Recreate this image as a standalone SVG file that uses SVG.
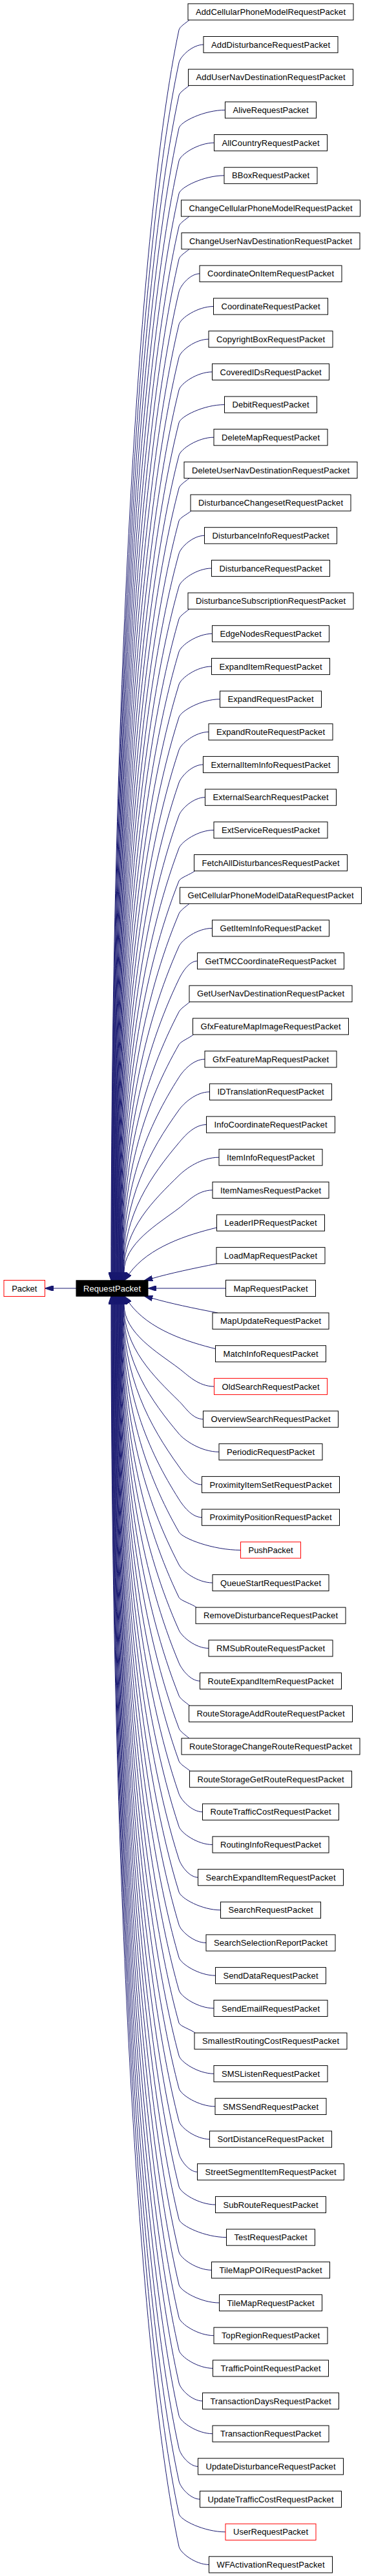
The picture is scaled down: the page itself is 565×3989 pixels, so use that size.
<svg xmlns="http://www.w3.org/2000/svg" width="565" height="3989" viewBox="0 0 565 3989">
<style>
.n rect{fill:#fff;stroke:#000;stroke-width:1}
.n text{font-family:"Liberation Sans",Arial,sans-serif;font-size:13px;text-anchor:middle;fill:#000}
.red rect{stroke:#ff0000}
.root rect{fill:#000}
.root text{fill:#fff}
#edges path{fill:none;stroke:#191970;stroke-width:1;marker-end:url(#ah)}
</style>
<defs>
<marker id="ah" markerUnits="userSpaceOnUse" viewBox="0 0 13 8.8" markerWidth="13" markerHeight="8.8" refX="13" refY="4.4" orient="auto"><path d="M0,0 L13,4.4 L0,8.8 z" fill="#191970" stroke="#191970" stroke-width="1"/></marker>
</defs>
<rect width="565" height="3989" fill="#fff"/>
<g id="edges">
<path d="M118,1995 L69.5,1995"/>
<path d="M293,31 C287,36 278.1,41.4 277,46.4 C214,343.6 172,1104.4 172,1970 L172,1983"/>
<path d="M315,69.1 C297.9,69.1 279.2,87.1 277,97.1 C214.4,388.4 172.6,1127.2 172.6,1970 L172.6,1983"/>
<path d="M293,132.4 C287,137.4 278.1,142.8 277,147.8 C214.7,435.1 173.1,1150 173.1,1970 L173.1,1983"/>
<path d="M348.5,170.4 C316.3,170.4 279.2,188.4 277,198.4 C215,480.1 173.7,1172.8 173.7,1970 L173.7,1983"/>
<path d="M331.5,221.1 C307,221.1 279.2,239.1 277,249.1 C215.3,525.7 174.2,1195.6 174.2,1970 L174.2,1983"/>
<path d="M347,271.8 C315.5,271.8 279.3,289.8 277,299.8 C215.7,571.1 174.8,1218.4 174.8,1970 L174.8,1983"/>
<path d="M293,335.1 C287,340.1 278.1,345.5 277,350.5 C216,617 175.3,1241.2 175.3,1970 L175.3,1983"/>
<path d="M293,385.8 C287,390.8 278.2,396.2 277,401.2 C216.3,662.1 175.9,1264 175.9,1970 L175.9,1983"/>
<path d="M309,423.8 C294.6,423.8 279.4,441.8 277,451.8 C216.6,707.6 176.4,1286.8 176.4,1970 L176.4,1983"/>
<path d="M330.5,474.5 C306.4,474.5 279.4,492.5 277,502.5 C217,752.5 177,1309.6 177,1970 L177,1983"/>
<path d="M323,525.2 C302.3,525.2 279.4,543.2 277,553.2 C217.4,797.6 177.6,1332.4 177.6,1970 L177.6,1983"/>
<path d="M328.5,575.9 C305.3,575.9 279.5,593.9 277,603.9 C217.7,842.2 178.1,1355.3 178.1,1970 L178.1,1983"/>
<path d="M347.5,626.6 C315.8,626.6 279.5,644.6 277,654.6 C218,887.7 178.7,1378.1 178.7,1970 L178.7,1983"/>
<path d="M331,677.2 C306.7,677.2 279.6,695.2 277,705.2 C218.3,932.6 179.2,1400.8 179.2,1970 L179.2,1983"/>
<path d="M293,740.5 C287,745.5 278.3,750.9 277,755.9 C218.7,976.8 179.8,1423.7 179.8,1970 L179.8,1983"/>
<path d="M296,791.2 C290,796.2 278.4,801.6 277,806.6 C219,1021.5 180.3,1446.5 180.3,1970 L180.3,1983"/>
<path d="M316.5,829.3 C298.7,829.3 279.8,847.3 277,857.3 C219.3,1065.5 180.9,1469.3 180.9,1970 L180.9,1983"/>
<path d="M327.5,880 C304.8,880 279.8,898 277,908 C219.6,1110 181.4,1492.1 181.4,1970 L181.4,1983"/>
<path d="M293,943.2 C287,948.2 278.5,953.6 277,958.6 C220,1154.5 182,1514.9 182,1970 L182,1983"/>
<path d="M328.5,981.3 C305.3,981.3 280,999.3 277,1009.3 C220.4,1198.1 182.6,1537.7 182.6,1970 L182.6,1983"/>
<path d="M327.5,1032 C304.8,1032 280.1,1050 277,1060 C220.7,1242.3 183.1,1560.5 183.1,1970 L183.1,1983"/>
<path d="M340.5,1082.7 C311.9,1082.7 280.2,1100.7 277,1110.7 C221,1285.6 183.7,1583.3 183.7,1970 L183.7,1983"/>
<path d="M323,1133.4 C302.3,1133.4 280.3,1151.4 277,1161.4 C221.3,1329.1 184.2,1606.1 184.2,1970 L184.2,1983"/>
<path d="M314.5,1184 C297.6,1184 280.5,1202 277,1212 C221.7,1372.3 184.8,1628.9 184.8,1970 L184.8,1983"/>
<path d="M317.5,1234.7 C299.3,1234.7 280.6,1252.7 277,1262.7 C222,1415.5 185.3,1651.7 185.3,1970 L185.3,1983"/>
<path d="M331,1285.4 C306.7,1285.4 280.8,1303.4 277,1313.4 C222.3,1458.4 185.9,1674.5 185.9,1970 L185.9,1983"/>
<path d="M301.5,1348.7 C295.5,1353.7 279,1359.1 277,1364.1 C222.6,1501 186.4,1697.3 186.4,1970 L186.4,1983"/>
<path d="M293,1399.4 C287,1404.4 279.1,1409.8 277,1414.8 C223,1543.4 187,1720.2 187,1970 L187,1983"/>
<path d="M328.5,1437.4 C305.3,1437.4 281.5,1455.4 277,1465.4 C223.4,1585.4 187.6,1742.9 187.6,1970 L187.6,1983"/>
<path d="M305.5,1488.1 C292.7,1488.1 281.8,1506.1 277,1516.1 C223.7,1627.2 188.1,1765.7 188.1,1970 L188.1,1983"/>
<path d="M294,1551.4 C288,1556.4 279.6,1561.8 277,1566.8 C224.6,1667.6 188.7,1788.6 188.7,1970 L188.7,1983"/>
<path d="M299.5,1602.1 C293.5,1607.1 279.9,1612.5 277,1617.5 C226.8,1705.6 189.2,1811.4 189.2,1970 L189.2,1983"/>
<path d="M317,1640.2 C299,1640.2 283.3,1658.2 277,1668.2 C229.1,1743.7 189.8,1834.2 189.8,1970 L189.8,1983"/>
<path d="M324.5,1690.8 C303.1,1690.8 284.2,1708.8 277,1718.8 C231.8,1781.6 190.3,1857 190.3,1970 L190.3,1983"/>
<path d="M319.5,1741.5 C300.4,1741.5 285.4,1759.5 277,1769.5 C234.9,1819.6 190.9,1879.8 190.9,1970 L190.9,1983"/>
<path d="M339,1792.2 C311.1,1792.2 287.2,1810.2 277,1820.2 C238.8,1857.7 191.4,1902.6 191.4,1970 L191.4,1983"/>
<path d="M329,1842.9 C305.6,1842.9 290.2,1860.9 277,1870.9 C244.3,1895.7 192,1925.4 192,1970 L192,1983"/>
<path d="M335.5,1901 C290,1912 230,1931 199.9,1972.5 L192.2,1983"/>
<path d="M336,1956.8 C300,1964 262,1972 236,1979.6 L223.4,1982.9"/>
<path d="M349.5,1995 L229,1995"/>
<path d="M337,2033 C300,2026 262,2018 236,2010.4 L223.4,2007.1"/>
<path d="M335,2089 C290,2078 230,2059 199.9,2017.5 L192.2,2007"/>
<path d="M331.5,2147 C307,2147 290.2,2129 277,2119 C244.3,2094.2 192,2064.6 192,2020 L192,2007"/>
<path d="M314.5,2197.6 C297.6,2197.6 287.2,2179.6 277,2169.6 C238.8,2132.2 191.4,2087.4 191.4,2020 L191.4,2007"/>
<path d="M339,2248.3 C311.1,2248.3 285.4,2230.3 277,2220.3 C234.9,2170.2 190.9,2110.2 190.9,2020 L190.9,2007"/>
<path d="M312.5,2299 C296.5,2299 284.2,2281 277,2271 C231.8,2208.2 190.3,2133 190.3,2020 L190.3,2007"/>
<path d="M312.5,2349.7 C296.5,2349.7 283.3,2331.7 277,2321.7 C229.1,2246.2 189.8,2155.8 189.8,2020 L189.8,2007"/>
<path d="M372.5,2400.4 C329.5,2400.4 282.7,2382.4 277,2372.4 C226.8,2284.3 189.2,2178.6 189.2,2020 L189.2,2007"/>
<path d="M329,2451 C305.6,2451 282.2,2433 277,2423 C224.6,2322.2 188.7,2201.4 188.7,2020 L188.7,2007"/>
<path d="M304,2489.1 C298,2484.1 279.4,2478.7 277,2473.7 C223.7,2362.6 188.1,2224.3 188.1,2020 L188.1,2007"/>
<path d="M323,2552.4 C302.3,2552.4 281.5,2534.4 277,2524.4 C223.4,2404.4 187.6,2247.1 187.6,2020 L187.6,2007"/>
<path d="M309.5,2603.1 C294.9,2603.1 281.2,2585.1 277,2575.1 C223,2446.5 187,2269.8 187,2020 L187,2007"/>
<path d="M293.5,2641.2 C287.5,2636.2 279,2630.8 277,2625.8 C222.6,2488.9 186.4,2292.7 186.4,2020 L186.4,2007"/>
<path d="M293,2691.8 C287,2686.8 278.9,2681.4 277,2676.4 C222.3,2531.4 185.9,2315.5 185.9,2020 L185.9,2007"/>
<path d="M294.5,2742.5 C288.5,2737.5 278.8,2732.1 277,2727.1 C222,2574.3 185.3,2338.3 185.3,2020 L185.3,2007"/>
<path d="M313.5,2805.8 C297.1,2805.8 280.5,2787.8 277,2777.8 C221.7,2617.5 184.8,2361.1 184.8,2020 L184.8,2007"/>
<path d="M329,2856.5 C305.6,2856.5 280.3,2838.5 277,2828.5 C221.3,2660.8 184.2,2383.9 184.2,2020 L184.2,2007"/>
<path d="M306.5,2907.2 C293.2,2907.2 280.2,2889.2 277,2879.2 C221,2704.3 183.7,2406.7 183.7,2020 L183.7,2007"/>
<path d="M341.5,2957.8 C312.5,2957.8 280.1,2939.8 277,2929.8 C220.7,2747.5 183.1,2429.5 183.1,2020 L183.1,2007"/>
<path d="M319,3008.5 C300.1,3008.5 280,2990.5 277,2980.5 C220.4,2791.7 182.6,2452.3 182.6,2020 L182.6,2007"/>
<path d="M333.5,3059.2 C308.1,3059.2 279.9,3041.2 277,3031.2 C220,2835.3 182,2475.1 182,2020 L182,2007"/>
<path d="M331,3109.9 C306.7,3109.9 279.8,3091.9 277,3081.9 C219.6,2879.9 181.4,2497.9 181.4,2020 L181.4,2007"/>
<path d="M302,3148 C296,3143 278.4,3137.6 277,3132.6 C219.3,2924.4 180.9,2520.7 180.9,2020 L180.9,2007"/>
<path d="M331,3211.2 C306.7,3211.2 279.7,3193.2 277,3183.2 C219,2968.3 180.3,2543.5 180.3,2020 L180.3,2007"/>
<path d="M333,3261.9 C307.8,3261.9 279.6,3243.9 277,3233.9 C218.7,3013 179.8,2566.3 179.8,2020 L179.8,2007"/>
<path d="M324.5,3312.6 C303.1,3312.6 279.6,3294.6 277,3284.6 C218.3,3057.2 179.2,2589.2 179.2,2020 L179.2,2007"/>
<path d="M305.5,3363.3 C292.7,3363.3 279.5,3345.3 277,3335.3 C218,3102.2 178.7,2611.9 178.7,2020 L178.7,2007"/>
<path d="M333.5,3414 C308.1,3414 279.5,3396 277,3386 C217.7,3147.7 178.1,2634.7 178.1,2020 L178.1,2007"/>
<path d="M350.5,3464.6 C317.4,3464.6 279.4,3446.6 277,3436.6 C217.4,3192.2 177.6,2657.6 177.6,2020 L177.6,2007"/>
<path d="M327.5,3515.3 C304.8,3515.3 279.4,3497.3 277,3487.3 C217,3237.3 177,2680.4 177,2020 L177,2007"/>
<path d="M339.5,3566 C311.4,3566 279.4,3548 277,3538 C216.6,3282.2 176.4,2703.2 176.4,2020 L176.4,2007"/>
<path d="M331,3616.7 C306.7,3616.7 279.3,3598.7 277,3588.7 C216.3,3327.8 175.9,2726 175.9,2020 L175.9,2007"/>
<path d="M329.5,3667.4 C305.9,3667.4 279.3,3649.4 277,3639.4 C216,3372.9 175.3,2748.8 175.3,2020 L175.3,2007"/>
<path d="M313.5,3718 C297.1,3718 279.3,3700 277,3690 C215.7,3418.7 174.8,2771.6 174.8,2020 L174.8,2007"/>
<path d="M329,3768.7 C305.6,3768.7 279.2,3750.7 277,3740.7 C215.3,3464.1 174.2,2794.4 174.2,2020 L174.2,2007"/>
<path d="M306.5,3819.4 C293.2,3819.4 279.2,3801.4 277,3791.4 C215,3509.7 173.7,2817.2 173.7,2020 L173.7,2007"/>
<path d="M309.5,3870.1 C294.9,3870.1 279.2,3852.1 277,3842.1 C214.7,3554.8 173.1,2840 173.1,2020 L173.1,2007"/>
<path d="M349,3920.8 C316.6,3920.8 279.2,3902.8 277,3892.8 C214.4,3601.5 172.6,2862.8 172.6,2020 L172.6,2007"/>
<path d="M323.5,3971.4 C302.6,3971.4 279.1,3953.4 277,3943.4 C214,3646.2 172,2885.6 172,2020 L172,2007"/>
</g>
<g id="node_Packet" class="n red"><rect x="6" y="1982.5" width="63.5" height="25"/><text x="37.8" y="1999.6" textLength="39">Packet</text></g>
<g id="node_RequestPacket" class="n root"><rect x="118" y="1982.8" width="111" height="24.4"/><text x="173.5" y="1999.6" textLength="89">RequestPacket</text></g>
<g id="node_AddCellularPhoneModelRequestPacket" class="n"><rect x="291" y="5.8" width="256" height="25.2"/><text x="419" y="23" textLength="232">AddCellularPhoneModelRequestPacket</text></g>
<g id="node_AddDisturbanceRequestPacket" class="n"><rect x="315" y="56.5" width="208" height="25.2"/><text x="419" y="73.7" textLength="184">AddDisturbanceRequestPacket</text></g>
<g id="node_AddUserNavDestinationRequestPacket" class="n"><rect x="291.5" y="107.2" width="255" height="25.2"/><text x="419" y="124.4" textLength="231">AddUserNavDestinationRequestPacket</text></g>
<g id="node_AliveRequestPacket" class="n"><rect x="348.5" y="157.8" width="141" height="25.2"/><text x="419" y="175" textLength="117">AliveRequestPacket</text></g>
<g id="node_AllCountryRequestPacket" class="n"><rect x="331.5" y="208.5" width="175" height="25.2"/><text x="419" y="225.7" textLength="151">AllCountryRequestPacket</text></g>
<g id="node_BBoxRequestPacket" class="n"><rect x="347" y="259.2" width="144" height="25.2"/><text x="419" y="276.4" textLength="120">BBoxRequestPacket</text></g>
<g id="node_ChangeCellularPhoneModelRequestPacket" class="n"><rect x="280.5" y="309.9" width="277" height="25.2"/><text x="419" y="327.1" textLength="253">ChangeCellularPhoneModelRequestPacket</text></g>
<g id="node_ChangeUserNavDestinationRequestPacket" class="n"><rect x="281" y="360.6" width="276" height="25.2"/><text x="419" y="377.8" textLength="252">ChangeUserNavDestinationRequestPacket</text></g>
<g id="node_CoordinateOnItemRequestPacket" class="n"><rect x="309" y="411.2" width="220" height="25.2"/><text x="419" y="428.4" textLength="196">CoordinateOnItemRequestPacket</text></g>
<g id="node_CoordinateRequestPacket" class="n"><rect x="330.5" y="461.9" width="177" height="25.2"/><text x="419" y="479.1" textLength="153">CoordinateRequestPacket</text></g>
<g id="node_CopyrightBoxRequestPacket" class="n"><rect x="323" y="512.6" width="192" height="25.2"/><text x="419" y="529.8" textLength="168">CopyrightBoxRequestPacket</text></g>
<g id="node_CoveredIDsRequestPacket" class="n"><rect x="328.5" y="563.3" width="181" height="25.2"/><text x="419" y="580.5" textLength="157">CoveredIDsRequestPacket</text></g>
<g id="node_DebitRequestPacket" class="n"><rect x="347.5" y="614" width="143" height="25.2"/><text x="419" y="631.2" textLength="119">DebitRequestPacket</text></g>
<g id="node_DeleteMapRequestPacket" class="n"><rect x="331" y="664.6" width="176" height="25.2"/><text x="419" y="681.8" textLength="152">DeleteMapRequestPacket</text></g>
<g id="node_DeleteUserNavDestinationRequestPacket" class="n"><rect x="285" y="715.3" width="268" height="25.2"/><text x="419" y="732.5" textLength="244">DeleteUserNavDestinationRequestPacket</text></g>
<g id="node_DisturbanceChangesetRequestPacket" class="n"><rect x="295" y="766" width="248" height="25.2"/><text x="419" y="783.2" textLength="224">DisturbanceChangesetRequestPacket</text></g>
<g id="node_DisturbanceInfoRequestPacket" class="n"><rect x="316.5" y="816.7" width="205" height="25.2"/><text x="419" y="833.9" textLength="181">DisturbanceInfoRequestPacket</text></g>
<g id="node_DisturbanceRequestPacket" class="n"><rect x="327.5" y="867.4" width="183" height="25.2"/><text x="419" y="884.6" textLength="159">DisturbanceRequestPacket</text></g>
<g id="node_DisturbanceSubscriptionRequestPacket" class="n"><rect x="291" y="918" width="256" height="25.2"/><text x="419" y="935.2" textLength="232">DisturbanceSubscriptionRequestPacket</text></g>
<g id="node_EdgeNodesRequestPacket" class="n"><rect x="328.5" y="968.7" width="181" height="25.2"/><text x="419" y="985.9" textLength="157">EdgeNodesRequestPacket</text></g>
<g id="node_ExpandItemRequestPacket" class="n"><rect x="327.5" y="1019.4" width="183" height="25.2"/><text x="419" y="1036.6" textLength="159">ExpandItemRequestPacket</text></g>
<g id="node_ExpandRequestPacket" class="n"><rect x="340.5" y="1070.1" width="157" height="25.2"/><text x="419" y="1087.3" textLength="133">ExpandRequestPacket</text></g>
<g id="node_ExpandRouteRequestPacket" class="n"><rect x="323" y="1120.8" width="192" height="25.2"/><text x="419" y="1138" textLength="168">ExpandRouteRequestPacket</text></g>
<g id="node_ExternalItemInfoRequestPacket" class="n"><rect x="314.5" y="1171.4" width="209" height="25.2"/><text x="419" y="1188.6" textLength="185">ExternalItemInfoRequestPacket</text></g>
<g id="node_ExternalSearchRequestPacket" class="n"><rect x="317.5" y="1222.1" width="203" height="25.2"/><text x="419" y="1239.3" textLength="179">ExternalSearchRequestPacket</text></g>
<g id="node_ExtServiceRequestPacket" class="n"><rect x="331" y="1272.8" width="176" height="25.2"/><text x="419" y="1290" textLength="152">ExtServiceRequestPacket</text></g>
<g id="node_FetchAllDisturbancesRequestPacket" class="n"><rect x="300.5" y="1323.5" width="237" height="25.2"/><text x="419" y="1340.7" textLength="213">FetchAllDisturbancesRequestPacket</text></g>
<g id="node_GetCellularPhoneModelDataRequestPacket" class="n"><rect x="278.5" y="1374.2" width="281" height="25.2"/><text x="419" y="1391.4" textLength="257">GetCellularPhoneModelDataRequestPacket</text></g>
<g id="node_GetItemInfoRequestPacket" class="n"><rect x="328.5" y="1424.8" width="181" height="25.2"/><text x="419" y="1442" textLength="157">GetItemInfoRequestPacket</text></g>
<g id="node_GetTMCCoordinateRequestPacket" class="n"><rect x="305.5" y="1475.5" width="227" height="25.2"/><text x="419" y="1492.7" textLength="203">GetTMCCoordinateRequestPacket</text></g>
<g id="node_GetUserNavDestinationRequestPacket" class="n"><rect x="293" y="1526.2" width="252" height="25.2"/><text x="419" y="1543.4" textLength="228">GetUserNavDestinationRequestPacket</text></g>
<g id="node_GfxFeatureMapImageRequestPacket" class="n"><rect x="298.5" y="1576.9" width="241" height="25.2"/><text x="419" y="1594.1" textLength="217">GfxFeatureMapImageRequestPacket</text></g>
<g id="node_GfxFeatureMapRequestPacket" class="n"><rect x="317" y="1627.6" width="204" height="25.2"/><text x="419" y="1644.8" textLength="180">GfxFeatureMapRequestPacket</text></g>
<g id="node_IDTranslationRequestPacket" class="n"><rect x="324.5" y="1678.2" width="189" height="25.2"/><text x="419" y="1695.4" textLength="165">IDTranslationRequestPacket</text></g>
<g id="node_InfoCoordinateRequestPacket" class="n"><rect x="319.5" y="1728.9" width="199" height="25.2"/><text x="419" y="1746.1" textLength="175">InfoCoordinateRequestPacket</text></g>
<g id="node_ItemInfoRequestPacket" class="n"><rect x="339" y="1779.6" width="160" height="25.2"/><text x="419" y="1796.8" textLength="136">ItemInfoRequestPacket</text></g>
<g id="node_ItemNamesRequestPacket" class="n"><rect x="329" y="1830.3" width="180" height="25.2"/><text x="419" y="1847.5" textLength="156">ItemNamesRequestPacket</text></g>
<g id="node_LeaderIPRequestPacket" class="n"><rect x="335.5" y="1881" width="167" height="25.2"/><text x="419" y="1898.2" textLength="143">LeaderIPRequestPacket</text></g>
<g id="node_LoadMapRequestPacket" class="n"><rect x="335" y="1931.6" width="168" height="25.2"/><text x="419" y="1948.8" textLength="144">LoadMapRequestPacket</text></g>
<g id="node_MapRequestPacket" class="n"><rect x="349.5" y="1982.3" width="139" height="25.2"/><text x="419" y="1999.5" textLength="115">MapRequestPacket</text></g>
<g id="node_MapUpdateRequestPacket" class="n"><rect x="329" y="2033" width="180" height="25.2"/><text x="419" y="2050.2" textLength="156">MapUpdateRequestPacket</text></g>
<g id="node_MatchInfoRequestPacket" class="n"><rect x="333.5" y="2083.7" width="171" height="25.2"/><text x="419" y="2100.9" textLength="147">MatchInfoRequestPacket</text></g>
<g id="node_OldSearchRequestPacket" class="n red"><rect x="331.5" y="2134.4" width="175" height="25.2"/><text x="419" y="2151.6" textLength="151">OldSearchRequestPacket</text></g>
<g id="node_OverviewSearchRequestPacket" class="n"><rect x="314.5" y="2185" width="209" height="25.2"/><text x="419" y="2202.2" textLength="185">OverviewSearchRequestPacket</text></g>
<g id="node_PeriodicRequestPacket" class="n"><rect x="339" y="2235.7" width="160" height="25.2"/><text x="419" y="2252.9" textLength="136">PeriodicRequestPacket</text></g>
<g id="node_ProximityItemSetRequestPacket" class="n"><rect x="312.5" y="2286.4" width="213" height="25.2"/><text x="419" y="2303.6" textLength="189">ProximityItemSetRequestPacket</text></g>
<g id="node_ProximityPositionRequestPacket" class="n"><rect x="312.5" y="2337.1" width="213" height="25.2"/><text x="419" y="2354.3" textLength="189">ProximityPositionRequestPacket</text></g>
<g id="node_PushPacket" class="n red"><rect x="372.5" y="2387.8" width="93" height="25.2"/><text x="419" y="2405" textLength="69">PushPacket</text></g>
<g id="node_QueueStartRequestPacket" class="n"><rect x="329" y="2438.4" width="180" height="25.2"/><text x="419" y="2455.6" textLength="156">QueueStartRequestPacket</text></g>
<g id="node_RemoveDisturbanceRequestPacket" class="n"><rect x="303" y="2489.1" width="232" height="25.2"/><text x="419" y="2506.3" textLength="208">RemoveDisturbanceRequestPacket</text></g>
<g id="node_RMSubRouteRequestPacket" class="n"><rect x="323" y="2539.8" width="192" height="25.2"/><text x="419" y="2557" textLength="168">RMSubRouteRequestPacket</text></g>
<g id="node_RouteExpandItemRequestPacket" class="n"><rect x="309.5" y="2590.5" width="219" height="25.2"/><text x="419" y="2607.7" textLength="195">RouteExpandItemRequestPacket</text></g>
<g id="node_RouteStorageAddRouteRequestPacket" class="n"><rect x="292.5" y="2641.2" width="253" height="25.2"/><text x="419" y="2658.4" textLength="229">RouteStorageAddRouteRequestPacket</text></g>
<g id="node_RouteStorageChangeRouteRequestPacket" class="n"><rect x="281" y="2691.8" width="276" height="25.2"/><text x="419" y="2709" textLength="252">RouteStorageChangeRouteRequestPacket</text></g>
<g id="node_RouteStorageGetRouteRequestPacket" class="n"><rect x="293.5" y="2742.5" width="251" height="25.2"/><text x="419" y="2759.7" textLength="227">RouteStorageGetRouteRequestPacket</text></g>
<g id="node_RouteTrafficCostRequestPacket" class="n"><rect x="313.5" y="2793.2" width="211" height="25.2"/><text x="419" y="2810.4" textLength="187">RouteTrafficCostRequestPacket</text></g>
<g id="node_RoutingInfoRequestPacket" class="n"><rect x="329" y="2843.9" width="180" height="25.2"/><text x="419" y="2861.1" textLength="156">RoutingInfoRequestPacket</text></g>
<g id="node_SearchExpandItemRequestPacket" class="n"><rect x="306.5" y="2894.6" width="225" height="25.2"/><text x="419" y="2911.8" textLength="201">SearchExpandItemRequestPacket</text></g>
<g id="node_SearchRequestPacket" class="n"><rect x="341.5" y="2945.2" width="155" height="25.2"/><text x="419" y="2962.4" textLength="131">SearchRequestPacket</text></g>
<g id="node_SearchSelectionReportPacket" class="n"><rect x="319" y="2995.9" width="200" height="25.2"/><text x="419" y="3013.1" textLength="176">SearchSelectionReportPacket</text></g>
<g id="node_SendDataRequestPacket" class="n"><rect x="333.5" y="3046.6" width="171" height="25.2"/><text x="419" y="3063.8" textLength="147">SendDataRequestPacket</text></g>
<g id="node_SendEmailRequestPacket" class="n"><rect x="331" y="3097.3" width="176" height="25.2"/><text x="419" y="3114.5" textLength="152">SendEmailRequestPacket</text></g>
<g id="node_SmallestRoutingCostRequestPacket" class="n"><rect x="301" y="3148" width="236" height="25.2"/><text x="419" y="3165.2" textLength="212">SmallestRoutingCostRequestPacket</text></g>
<g id="node_SMSListenRequestPacket" class="n"><rect x="331" y="3198.6" width="176" height="25.2"/><text x="419" y="3215.8" textLength="152">SMSListenRequestPacket</text></g>
<g id="node_SMSSendRequestPacket" class="n"><rect x="333" y="3249.3" width="172" height="25.2"/><text x="419" y="3266.5" textLength="148">SMSSendRequestPacket</text></g>
<g id="node_SortDistanceRequestPacket" class="n"><rect x="324.5" y="3300" width="189" height="25.2"/><text x="419" y="3317.2" textLength="165">SortDistanceRequestPacket</text></g>
<g id="node_StreetSegmentItemRequestPacket" class="n"><rect x="305.5" y="3350.7" width="227" height="25.2"/><text x="419" y="3367.9" textLength="203">StreetSegmentItemRequestPacket</text></g>
<g id="node_SubRouteRequestPacket" class="n"><rect x="333.5" y="3401.4" width="171" height="25.2"/><text x="419" y="3418.6" textLength="147">SubRouteRequestPacket</text></g>
<g id="node_TestRequestPacket" class="n"><rect x="350.5" y="3452" width="137" height="25.2"/><text x="419" y="3469.2" textLength="113">TestRequestPacket</text></g>
<g id="node_TileMapPOIRequestPacket" class="n"><rect x="327.5" y="3502.7" width="183" height="25.2"/><text x="419" y="3519.9" textLength="159">TileMapPOIRequestPacket</text></g>
<g id="node_TileMapRequestPacket" class="n"><rect x="339.5" y="3553.4" width="159" height="25.2"/><text x="419" y="3570.6" textLength="135">TileMapRequestPacket</text></g>
<g id="node_TopRegionRequestPacket" class="n"><rect x="331" y="3604.1" width="176" height="25.2"/><text x="419" y="3621.3" textLength="152">TopRegionRequestPacket</text></g>
<g id="node_TrafficPointRequestPacket" class="n"><rect x="329.5" y="3654.8" width="179" height="25.2"/><text x="419" y="3672" textLength="155">TrafficPointRequestPacket</text></g>
<g id="node_TransactionDaysRequestPacket" class="n"><rect x="313.5" y="3705.4" width="211" height="25.2"/><text x="419" y="3722.6" textLength="187">TransactionDaysRequestPacket</text></g>
<g id="node_TransactionRequestPacket" class="n"><rect x="329" y="3756.1" width="180" height="25.2"/><text x="419" y="3773.3" textLength="156">TransactionRequestPacket</text></g>
<g id="node_UpdateDisturbanceRequestPacket" class="n"><rect x="306.5" y="3806.8" width="225" height="25.2"/><text x="419" y="3824" textLength="201">UpdateDisturbanceRequestPacket</text></g>
<g id="node_UpdateTrafficCostRequestPacket" class="n"><rect x="309.5" y="3857.5" width="219" height="25.2"/><text x="419" y="3874.7" textLength="195">UpdateTrafficCostRequestPacket</text></g>
<g id="node_UserRequestPacket" class="n red"><rect x="349" y="3908.2" width="140" height="25.2"/><text x="419" y="3925.4" textLength="116">UserRequestPacket</text></g>
<g id="node_WFActivationRequestPacket" class="n"><rect x="323.5" y="3958.8" width="191" height="25.2"/><text x="419" y="3976" textLength="167">WFActivationRequestPacket</text></g>
</svg>
